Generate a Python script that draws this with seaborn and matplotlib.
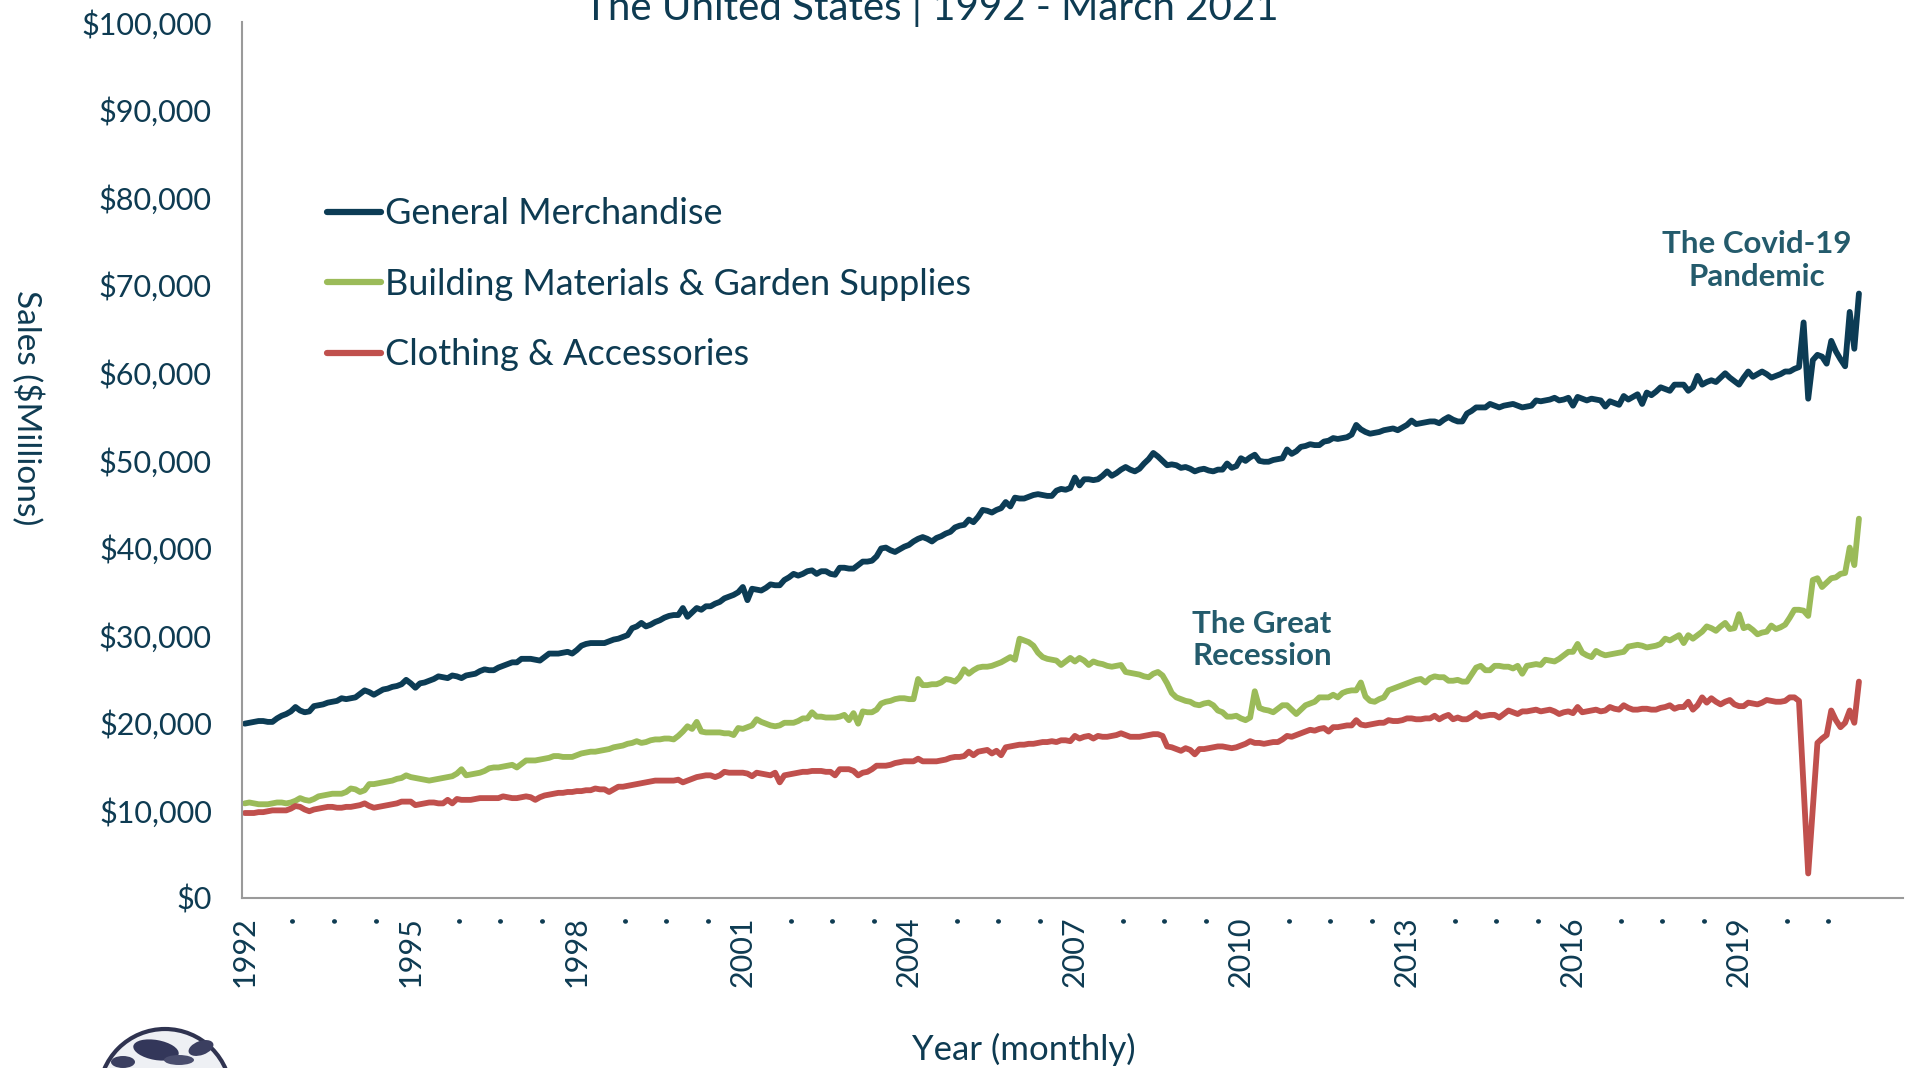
import numpy as np
import pandas as pd
import seaborn as sns
import matplotlib.pyplot as plt
from matplotlib.lines import Line2D
from matplotlib.patches import Circle, Ellipse
from matplotlib.ticker import FixedLocator, FuncFormatter

# monthly retail sales ($ millions), Jan 1992 - Mar 2021, one row per year
gen_merch = [
    19900, 20000, 20100, 20200, 20200, 20100, 20100, 20500, 20800, 21000, 21300, 21800,
    21400, 21200, 21300, 21900, 22000, 22100, 22300, 22400, 22500, 22800, 22700, 22800,
    22900, 23300, 23700, 23500, 23200, 23500, 23800, 23900, 24100, 24200, 24400, 24900,
    24500, 24000, 24500, 24600, 24800, 25000, 25300, 25200, 25100, 25400, 25300, 25100,
    25400, 25500, 25600, 25900, 26100, 26000, 26000, 26300, 26500, 26700, 26900, 26900,
    27300, 27300, 27300, 27200, 27100, 27500, 27900, 27900, 27900, 28000, 28100, 27900,
    28300, 28800, 29000, 29100, 29100, 29100, 29100, 29300, 29500, 29600, 29800, 30000,
    30800, 31000, 31400, 31000, 31200, 31500, 31700, 32000, 32200, 32300, 32300, 33100,
    32100, 32600, 33100, 32900, 33300, 33300, 33600, 33800, 34200, 34400, 34600, 34900,
    35500, 34000, 35300, 35200, 35100, 35400, 35800, 35700, 35700, 36300, 36600, 37000,
    36800, 37000, 37300, 37400, 37000, 37300, 37300, 37000, 36900, 37700, 37700, 37600,
    37600, 38000, 38400, 38400, 38500, 39000, 39900, 40000, 39700, 39500, 39800, 40100,
    40300, 40700, 41000, 41200, 41000, 40700, 41100, 41300, 41600, 41800, 42300, 42500,
    42600, 43200, 42900, 43500, 44300, 44200, 44000, 44300, 44500, 45200, 44700, 45700,
    45600, 45600, 45800, 46000, 46100, 46000, 45900, 45900, 46500, 46700, 46600, 46800,
    48000, 47100, 47800, 47800, 47700, 47800, 48200, 48700, 48200, 48500, 48900, 49200,
    48900, 48700, 49000, 49600, 50100, 50800, 50400, 49900, 49400, 49500, 49400, 49100,
    49200, 49000, 48700, 48900, 49000, 48800, 48700, 48900, 48900, 49600, 49100, 49300,
    50200, 49900, 50300, 50600, 49900, 49800, 49800, 50000, 50100, 50200, 51200, 50700,
    51000, 51500, 51600, 51800, 51700, 51700, 52100, 52200, 52500, 52400, 52500, 52600,
    52900, 54000, 53500, 53200, 53000, 53100, 53200, 53400, 53500, 53600, 53400, 53700,
    54000, 54500, 54100, 54200, 54300, 54400, 54400, 54200, 54600, 54900, 54600, 54400,
    54400, 55300, 55600, 56000, 56000, 56000, 56400, 56200, 56000, 56200, 56300, 56400,
    56200, 56000, 56100, 56200, 56800, 56700, 56800, 56900, 57100, 56800, 56900, 57100,
    56200, 57200, 57000, 56800, 57000, 56900, 56800, 56100, 56700, 56500, 56300, 57300,
    56900, 57200, 57500, 56400, 57700, 57400, 57800, 58300, 58100, 57900, 58600, 58600,
    58600, 57900, 58300, 59600, 58600, 58900, 59100, 58900, 59400, 59900, 59400, 59000,
    58600, 59400, 60100, 59500, 59800, 60100, 59800, 59400, 59600, 59800, 60100, 60100,
    60400, 60600, 65700, 57000, 61400, 62000, 61800, 61000, 63600, 62400, 61500, 60700,
    66900, 62700, 69000,
]

building = [
    10800, 10900, 10800, 10700, 10700, 10700, 10800, 10900, 10900, 10800, 10900, 11100,
    11400, 11200, 11100, 11300, 11600, 11700, 11800, 11900, 11900, 11900, 12100, 12500,
    12400, 12100, 12300, 13000, 13000, 13100, 13200, 13300, 13400, 13600, 13700, 14000,
    13800, 13700, 13600, 13500, 13400, 13500, 13600, 13700, 13800, 13900, 14200, 14700,
    14000, 14100, 14200, 14300, 14500, 14800, 14900, 14900, 15000, 15100, 15200, 14900,
    15300, 15700, 15700, 15700, 15800, 15900, 16000, 16200, 16200, 16100, 16100, 16100,
    16300, 16500, 16600, 16700, 16700, 16800, 16900, 17000, 17200, 17300, 17400, 17600,
    17700, 17900, 17700, 17800, 18000, 18100, 18100, 18200, 18200, 18100, 18500, 19000,
    19600, 19300, 20100, 19000, 18900, 18900, 18900, 18900, 18800, 18800, 18600, 19400,
    19300, 19500, 19700, 20400, 20100, 19900, 19700, 19600, 19700, 20000, 20000, 20000,
    20200, 20500, 20500, 21200, 20700, 20700, 20600, 20600, 20600, 20700, 20900, 20300,
    21100, 19900, 21300, 21200, 21200, 21500, 22200, 22400, 22500, 22700, 22800, 22800,
    22700, 22700, 25000, 24300, 24300, 24400, 24400, 24600, 25000, 24900, 24700, 25200,
    26100, 25600, 26000, 26300, 26400, 26400, 26500, 26700, 26900, 27200, 27500, 27200,
    29600, 29400, 29200, 28800, 28000, 27500, 27300, 27200, 27100, 26600, 27000, 27400,
    27000, 27400, 27100, 26600, 27000, 26800, 26700, 26500, 26400, 26500, 26600, 25800,
    25700, 25600, 25500, 25300, 25200, 25600, 25800, 25400, 24500, 23400, 22900, 22700,
    22500, 22400, 22100, 22000, 22200, 22300, 22000, 21400, 21200, 20700, 20700, 20800,
    20500, 20300, 20600, 23600, 21700, 21500, 21400, 21200, 21600, 22000, 22000, 21500,
    21000, 21500, 22000, 22200, 22400, 22900, 22900, 22900, 23200, 22900, 23400, 23600,
    23700, 23700, 24600, 23000, 22500, 22400, 22700, 22900, 23700, 23900, 24100, 24300,
    24500, 24700, 24900, 25000, 24600, 25100, 25300, 25200, 25200, 24800, 24800, 24900,
    24700, 24700, 25500, 26300, 26500, 26000, 26000, 26500, 26500, 26400, 26400, 26200,
    26500, 25600, 26500, 26600, 26700, 26600, 27200, 27100, 27000, 27300, 27700, 28100,
    28100, 29000, 28000, 27700, 27500, 28200, 27900, 27700, 27800, 27900, 28000, 28100,
    28700, 28800, 28900, 28800, 28600, 28700, 28800, 29000, 29600, 29400, 29700, 30000,
    29100, 30000, 29600, 30000, 30400, 31000, 30800, 30500, 31000, 31400, 30700, 30800,
    32400, 30800, 31000, 30600, 30100, 30300, 30400, 31100, 30700, 30900, 31200, 32000,
    32900, 32900, 32800, 32200, 36300, 36500, 35500, 36000, 36500, 36600, 37000, 37100,
    40000, 38000, 43300,
]

clothing = [
    9700, 9700, 9700, 9800, 9800, 9900, 10000, 10000, 10000, 10000, 10200, 10500,
    10400, 10100, 9900, 10100, 10200, 10300, 10400, 10400, 10300, 10300, 10400, 10400,
    10500, 10600, 10800, 10500, 10300, 10400, 10500, 10600, 10700, 10800, 11000, 11000,
    11000, 10600, 10700, 10800, 10900, 10900, 10800, 10800, 11200, 10800, 11300, 11200,
    11200, 11200, 11300, 11400, 11400, 11400, 11400, 11400, 11600, 11500, 11400, 11400,
    11500, 11600, 11500, 11200, 11500, 11700, 11800, 11900, 12000, 12000, 12100, 12100,
    12200, 12200, 12300, 12300, 12500, 12400, 12400, 12100, 12400, 12700, 12700, 12800,
    12900, 13000, 13100, 13200, 13300, 13400, 13400, 13400, 13400, 13400, 13500, 13200,
    13400, 13600, 13800, 13900, 14000, 14000, 13800, 14000, 14400, 14300, 14300, 14300,
    14300, 14200, 13900, 14300, 14200, 14100, 14000, 14300, 13200, 14000, 14100, 14200,
    14300, 14400, 14400, 14500, 14500, 14500, 14400, 14400, 14000, 14700, 14700, 14700,
    14500, 14000, 14300, 14400, 14700, 15100, 15100, 15100, 15200, 15400, 15500, 15600,
    15600, 15600, 15900, 15600, 15600, 15600, 15600, 15700, 15800, 16000, 16100, 16100,
    16200, 16700, 16300, 16700, 16800, 16900, 16500, 16800, 16300, 17200, 17300, 17400,
    17500, 17500, 17600, 17600, 17700, 17800, 17800, 17900, 17800, 18000, 18000, 17900,
    18500, 18200, 18400, 18500, 18200, 18500, 18400, 18400, 18500, 18600, 18800, 18600,
    18400, 18400, 18400, 18500, 18600, 18700, 18700, 18500, 17300, 17200, 17000, 16800,
    17100, 16900, 16400, 17000, 17000, 17100, 17200, 17300, 17300, 17200, 17100, 17200,
    17400, 17600, 17900, 17700, 17700, 17600, 17700, 17800, 17800, 18100, 18500, 18400,
    18600, 18800, 19000, 19200, 19100, 19300, 19400, 19000, 19500, 19500, 19600, 19700,
    19700, 20300, 19800, 19700, 19800, 19900, 20000, 20000, 20300, 20200, 20200, 20300,
    20500, 20500, 20400, 20400, 20500, 20500, 20800, 20400, 20700, 20900, 20400, 20600,
    20400, 20400, 20700, 21100, 20700, 20800, 20900, 20900, 20600, 21000, 21400, 21200,
    21000, 21300, 21300, 21400, 21500, 21300, 21400, 21500, 21300, 21000, 21200, 21300,
    21100, 21800, 21200, 21300, 21400, 21500, 21300, 21400, 21800, 21600, 21500, 22000,
    21700, 21500, 21500, 21600, 21600, 21500, 21500, 21700, 21800, 22000, 21600, 21800,
    21800, 22400, 21500, 22000, 22900, 22300, 22800, 22400, 22100, 22400, 22600, 22100,
    21900, 21900, 22300, 22200, 22100, 22300, 22600, 22500, 22400, 22400, 22500, 22900,
    22900, 22500, 12700, 2800, 10300, 17700, 18200, 18600, 21400, 20300, 19500, 20000,
    21400, 20000, 24700,
]

series_names = ["General Merchandise", "Building Materials & Garden Supplies",
                "Clothing & Accessories"]
series_colors = ["#0C3C55", "#9BBB59", "#C0504D"]
y_ticks = list(range(0, 100001, 10000))

TEXT = "#0E3B52"
NOTE = "#245B6C"
AXIS = "#9A9A9A"

n = len(gen_merch)
months = pd.date_range("1992-01-01", periods=n, freq="MS")
# excel category axis: one slot per month, runs through Dec 2021
n_slots = 12 * 30

df = pd.concat([
    pd.DataFrame({"slot": np.arange(n) + 0.5, "month": months, "sales": vals, "series": name})
    for name, vals in zip(series_names, [gen_merch, building, clothing])
])

sns.set_theme(style="white")
plt.rcParams['font.family'] = ['Lato', 'DejaVu Sans']

fig = plt.figure(figsize=(19.21, 10.68), dpi=100)
ax = fig.add_axes([0.1262, 0.1592, 0.8643, 0.8202])

sns.lineplot(data=df, x="slot", y="sales", hue="series", hue_order=series_names,
             palette=dict(zip(series_names, series_colors)), estimator=None, sort=False,
             linewidth=4.2, legend=False, ax=ax)
for ln in ax.lines:
    ln.set_solid_joinstyle("round")
    ln.set_solid_capstyle("round")

ax.set_xlim(0, n_slots)
ax.set_ylim(0, 100000)
ax.set_xlabel("")
ax.set_ylabel("")

# labels every 9 months: year on januaries, a dot otherwise
lab_pos = [i + 0.5 for i in range(0, n, 9)]
lab_txt = [str(months[i].year) if months[i].month == 1 else "." for i in range(0, n, 9)]
ax.xaxis.set_major_locator(FixedLocator(lab_pos))
ax.set_xticklabels(lab_txt, rotation=90, fontsize=22, color=TEXT)
for t in ax.get_xticklabels():
    if t.get_text() == ".":
        t.set_fontweight("bold")
ax.xaxis.set_minor_locator(FixedLocator(np.arange(0, n_slots + 1)))
ax.tick_params(axis="x", which="major", length=0, pad=13)
ax.tick_params(axis="x", which="minor", length=6.5, width=1, color=AXIS, direction="out")

ax.set_yticks(y_ticks)
ax.yaxis.set_major_formatter(FuncFormatter(lambda v, p: f"${v:,.0f}"))
ax.tick_params(axis="y", length=8, width=1.5, color=AXIS, direction="out",
               pad=14, labelsize=22, labelcolor=TEXT)

for s in ["top", "right"]:
    ax.spines[s].set_visible(False)
for s in ["left", "bottom"]:
    ax.spines[s].set_color(AXIS)
    ax.spines[s].set_linewidth(1.5)

handles = [Line2D([], [], color=c, lw=4.5, solid_capstyle="round") for c in series_colors]
ax.legend(handles, series_names, loc="upper left", bbox_to_anchor=(0.0509, 0.800),
          frameon=False, fontsize=26, labelcolor=TEXT, handlelength=1.5,
          handletextpad=0.12, labelspacing=1.04, borderpad=0, borderaxespad=0)

ax.text(0.912, 0.728, "The Covid-19\nPandemic", transform=ax.transAxes, ha="center",
        va="center", fontsize=22.5, fontweight="bold", color=NOTE, linespacing=1.2)
ax.text(0.614, 0.2945, "The Great\nRecession", transform=ax.transAxes, ha="center",
        va="center", fontsize=22.5, fontweight="bold", color=NOTE, linespacing=1.2)

fig.text(931 / 1921, 1 - 20 / 1068, "The United States | 1992 - March 2021",
         ha="center", va="baseline", fontsize=29, color=TEXT)
fig.text(27 / 1921, 1 - 408 / 1068, "Sales ($Millions)", rotation=-90,
         ha="center", va="center", fontsize=24, color=TEXT)
fig.text(1024 / 1921, 1 - 1049 / 1068, "Year (monthly)",
         ha="center", va="center", fontsize=25, color=TEXT)

# globe logo, mostly cut off by the bottom edge
lax = fig.add_axes([61 / 1921, 0, 184 / 1921, 45 / 1068])
lax.set_xlim(0, 184)
lax.set_ylim(0, 45)
lax.axis("off")
lax.add_patch(Circle((104, -27), 66, facecolor="#eef0f4", edgecolor="#2f3350", lw=3))
lax.add_patch(Ellipse((95, 18), 46, 20, angle=-10, facecolor="#33375a", edgecolor="none"))
lax.add_patch(Ellipse((140, 20), 26, 14, angle=20, facecolor="#3b3f60", edgecolor="none"))
lax.add_patch(Ellipse((62, 6), 24, 12, facecolor="#3b3f60", edgecolor="none"))
lax.add_patch(Ellipse((118, 8), 30, 10, facecolor="#4a4e6e", edgecolor="none"))

fig.savefig("out.png", dpi=100)
